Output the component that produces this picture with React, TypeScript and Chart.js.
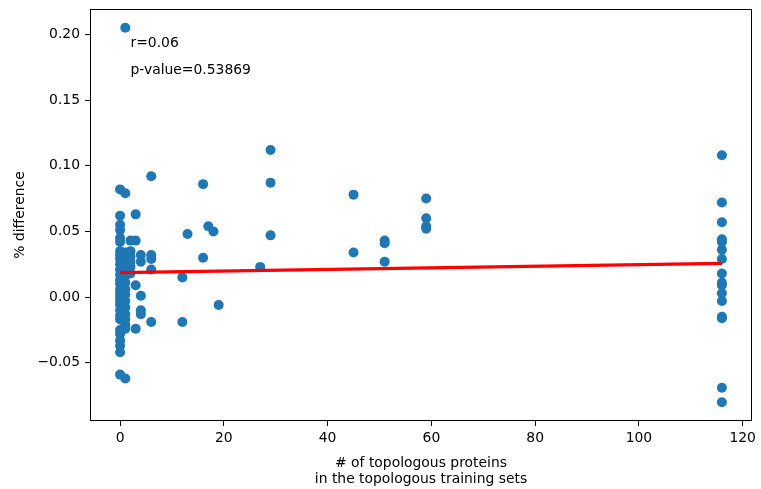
import React, { useEffect, useRef } from "react";
import { Chart, registerables } from "chart.js";

Chart.register(...registerables);

// # of topologous proteins (x) and % difference (y), one entry per point
const topologousCounts: number[] = [
  // x = 0
  0, 0, 0, 0, 0, 0, 0, 0, 0, 0, 0, 0, 0, 0, 0, 0, 0, 0, 0, 0, 0, 0, 0, 0, 0, 0, 0, 0,
  // x = 1
  1, 1, 1, 1, 1, 1, 1, 1, 1, 1, 1, 1, 1, 1, 1, 1, 1,
  // x = 2
  2, 2, 2, 2, 2, 2,
  // x = 3
  3, 3, 3, 3,
  // x = 4
  4, 4, 4, 4, 4,
  // x = 6
  6, 6, 6, 6, 6,
  12, 12, 13, 16, 16, 17, 18, 19, 27, 29, 29, 29, 45, 45, 51, 51, 51, 59, 59, 59, 59,
  // x = 116
  116, 116, 116, 116, 116, 116, 116, 116, 116, 116, 116, 116, 116, 116, 116, 116,
];

const percentDifference: number[] = [
  0.082, 0.062, 0.055, 0.051, 0.045, 0.042, 0.035, 0.032, 0.029, 0.025, 0.021, 0.017, 0.013, 0.010,
  0.006, 0.003, 0.000, -0.003, -0.006, -0.010, -0.014, -0.017, -0.025, -0.028, -0.033, -0.037, -0.042, -0.059,
  0.205, 0.079, 0.034, 0.030, 0.026, 0.021, 0.016, 0.011, 0.006, 0.002, -0.003, -0.008, -0.013, -0.017,
  -0.021, -0.024, -0.062,
  0.043, 0.035, 0.031, 0.027, 0.023, 0.018,
  0.063, 0.043, 0.009, -0.024,
  0.032, 0.027, 0.001, -0.010, -0.013,
  0.092, 0.032, 0.029, 0.021, -0.019,
  0.015, -0.019, 0.048, 0.086, 0.030, 0.054, 0.050, -0.006, 0.023, 0.112, 0.087, 0.047, 0.078, 0.034,
  0.043, 0.041, 0.027, 0.075, 0.060, 0.054, 0.052,
  0.108, 0.072, 0.057, 0.044, 0.042, 0.036, 0.029, 0.018, 0.011, 0.009, 0.003, -0.003, -0.015, -0.016,
  -0.069, -0.080,
];

// Linear fit endpoints
const fitX: number[] = [0, 116];
const fitY: number[] = [0.0187, 0.0257];

const xTicks: number[] = [0, 20, 40, 60, 80, 100, 120];
const yTicks: number[] = [-0.05, 0, 0.05, 0.1, 0.15, 0.2];

const statLabels: string[] = ["r=0.06", "p-value=0.53869"];
const statLabelX: number[] = [2, 2];
const statLabelY: number[] = [0.19, 0.17];

const FONT = '"DejaVu Sans", sans-serif';
const FS = 13.9;

const W = 761;
const H = 500;

export default function App() {
  const ref = useRef<HTMLCanvasElement | null>(null);

  useEffect(() => {
    if (!ref.current) return;
    const points = topologousCounts.map((x, i) => ({ x, y: percentDifference[i] }));
    const fit = fitX.map((x, i) => ({ x, y: fitY[i] }));

    const framePlugin = {
      id: "frame",
      afterDraw(chart: any) {
        const { ctx, chartArea } = chart;
        ctx.save();
        ctx.strokeStyle = "#000";
        ctx.lineWidth = 1;
        ctx.strokeRect(
          Math.round(chartArea.left) + 0.5,
          Math.round(chartArea.top) + 0.5,
          Math.round(chartArea.right - chartArea.left) - 1,
          Math.round(chartArea.bottom - chartArea.top) - 1
        );
        ctx.restore();
      },
    };

    const textPlugin = {
      id: "stats",
      afterDatasetsDraw(chart: any) {
        const { ctx } = chart;
        const xs = chart.scales.x;
        const ys = chart.scales.y;
        ctx.save();
        ctx.fillStyle = "#000";
        ctx.font = `${FS}px ${FONT}`;
        ctx.textAlign = "left";
        ctx.textBaseline = "alphabetic";
        statLabels.forEach((t, i) => {
          ctx.fillText(t, xs.getPixelForValue(statLabelX[i]), ys.getPixelForValue(statLabelY[i]));
        });
        ctx.restore();
      },
    };

    const chart = new Chart(ref.current, {
      type: "scatter",
      data: {
        datasets: [
          {
            type: "line",
            data: fit,
            borderColor: "#ff0000",
            backgroundColor: "#ff0000",
            borderWidth: 3.2,
            pointRadius: 0,
            fill: false,
            showLine: true,
          } as any,
          {
            data: points,
            backgroundColor: "#1f77b4",
            borderColor: "#1f77b4",
            borderWidth: 0,
            pointRadius: 5,
          },
        ],
      },
      options: {
        animation: false,
        responsive: false,
        devicePixelRatio: 1,
        layout: { padding: { top: 9, right: 9, left: 0, bottom: 0 } },
        plugins: { legend: { display: false }, tooltip: { enabled: false } },
        scales: {
          x: {
            type: "linear",
            min: -5.8,
            max: 121.8,
            afterBuildTicks: (s: any) => {
              s.ticks = xTicks.map((v) => ({ value: v }));
            },
            afterFit: (s: any) => {
              s.height = H - 421;
              s.paddingLeft = 0;
              s.paddingRight = 0;
            },
            grid: {
              display: true,
              drawOnChartArea: false,
              drawTicks: true,
              tickLength: 5,
              color: "#000",
              lineWidth: 1,
            },
            border: { display: false },
            ticks: {
              color: "#000",
              font: { family: FONT, size: FS },
              padding: 4,
              maxRotation: 0,
              autoSkip: false,
              callback: (v: any) => String(v),
            },
            title: {
              display: true,
              text: ["# of topologous proteins", "in the topologous training sets"],
              color: "#000",
              font: { family: FONT, size: FS, lineHeight: 1.18 },
              padding: { top: 0, bottom: 12 },
            },
          },
          y: {
            type: "linear",
            min: -0.0943,
            max: 0.2193,
            afterBuildTicks: (s: any) => {
              s.ticks = yTicks.map((v) => ({ value: v }));
            },
            afterFit: (s: any) => {
              s.width = 90;
              s.paddingTop = 0;
              s.paddingBottom = 0;
            },
            grid: {
              display: true,
              drawOnChartArea: false,
              drawTicks: true,
              tickLength: 5,
              color: "#000",
              lineWidth: 1,
            },
            border: { display: false },
            ticks: {
              color: "#000",
              font: { family: FONT, size: FS },
              padding: 5,
              autoSkip: false,
              callback: (v: any) => {
                const n = Number(v);
                const s = Math.abs(n).toFixed(2);
                return n < -1e-9 ? "\u2212" + s : s;
              },
            },
            title: {
              display: true,
              text: "% difference",
              color: "#000",
              font: { family: FONT, size: FS, lineHeight: 1.15 },
              padding: { top: 12, bottom: 0 },
            },
          },
        },
      },
      plugins: [framePlugin, textPlugin],
    });
    return () => chart.destroy();
  }, []);

  return (
    <div
      style={{
        position: "fixed",
        left: 0,
        top: 0,
        width: W,
        height: 489,
        overflow: "hidden",
        background: "#fff",
      }}
    >
      <canvas ref={ref} width={W} height={H} style={{ width: W, height: H, display: "block" }} />
    </div>
  );
}
